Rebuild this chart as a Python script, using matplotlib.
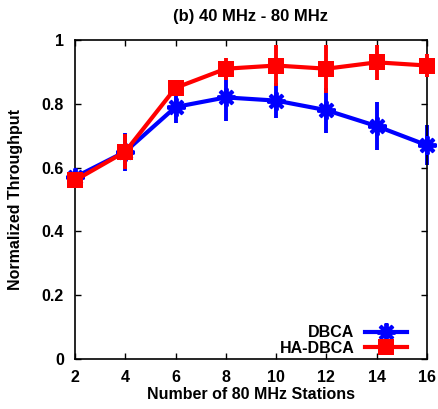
import matplotlib
matplotlib.use("Agg")
import matplotlib.pyplot as plt

plt.rcParams['font.family'] = ['Liberation Sans', 'DejaVu Sans']
plt.rcParams['font.weight'] = 'bold'

stations = [2, 4, 6, 8, 10, 12, 14, 16]
dbca = [0.57, 0.65, 0.79, 0.82, 0.81, 0.78, 0.73, 0.67]
dbca_err = [0.02, 0.06, 0.05, 0.075, 0.056, 0.07, 0.075, 0.062]
hadbca = [0.56, 0.65, 0.85, 0.91, 0.92, 0.91, 0.93, 0.92]
hadbca_err = [0.015, 0.055, 0.01, 0.035, 0.065, 0.075, 0.055, 0.035]
xticks = [2, 4, 6, 8, 10, 12, 14, 16]
yticks = [0, 0.2, 0.4, 0.6, 0.8, 1.0]
ytick_labels = ['0', '0.2', '0.4', '0.6', '0.8', '1']

fig = plt.figure(figsize=(4.39, 4.09), dpi=100)
W, H = 439, 409
x0, x1, y0, y1 = 75, 427, 40, 359
ax = fig.add_axes([x0/W, (H-y1)/H, (x1-x0)/W, (y1-y0)/H])

blue = '#0000ff'
red = '#ff0000'

ax.errorbar(stations, dbca, yerr=dbca_err, fmt='none', ecolor=blue, elinewidth=2.8, capsize=0, zorder=2, clip_on=False)
l1, = ax.plot(stations, dbca, color=blue, lw=3, marker=(8, 2, 0), ms=13, mew=2.8, label='DBCA', zorder=3, clip_on=False)
ax.errorbar(stations, hadbca, yerr=hadbca_err, fmt='none', ecolor=red, elinewidth=2.8, capsize=0, zorder=4, clip_on=False)
l2, = ax.plot(stations, hadbca, color=red, lw=3, marker='s', ms=12, mew=0, label='HA-DBCA', zorder=5, clip_on=False)

ax.set_xlim(2, 16)
ax.set_ylim(0, 1)
ax.set_xticks(xticks)
ax.set_yticks(yticks)
ax.set_yticklabels(ytick_labels)
ax.tick_params(direction='in', top=True, right=True, labelsize=11.5, length=4, width=1, pad=8)
for s in ax.spines.values():
    s.set_linewidth(1.2)

ax.set_xlabel('Number of 80 MHz Stations', fontsize=11.5, fontweight='bold')
ax.set_ylabel('Normalized Throughput', fontsize=11.5, fontweight='bold')
ax.xaxis.set_label_coords(0.5, (y1-387)/(y1-y0))
ax.yaxis.set_label_coords((23-x0)/(x1-x0), 0.5)
ax.set_title('(b) 40 MHz - 80 MHz', fontsize=12, fontweight='bold', pad=14)

leg = ax.legend(handles=[l1, l2], loc='lower right', markerfirst=False, frameon=False,
                fontsize=11.5, handlelength=2.6, handletextpad=0.7, labelspacing=0.05,
                borderaxespad=0, borderpad=0,
                bbox_to_anchor=((407-x0)/(x1-x0), (y1-356)/(y1-y0)))

fig.savefig('out.png', dpi=100)
